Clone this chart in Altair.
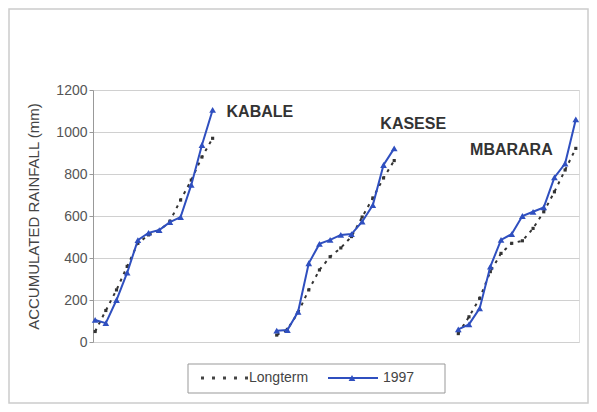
import altair as alt
import pandas as pd

# ---- data ----
stations = ["KABALE", "KASESE", "MBARARA"]
offsets = [0, 17, 34]
kabale_1997 = [105, 90, 200, 330, 485, 520, 533, 571, 595, 748, 938, 1105]
kabale_longterm = [50, 150, 248, 360, 470, 510, 530, 575, 676, 771, 881, 970]
kasese_1997 = [54, 57, 144, 375, 467, 486, 510, 514, 573, 652, 843, 922]
kasese_longterm = [33, 60, 140, 248, 343, 406, 448, 502, 595, 686, 781, 864]
mbarara_1997 = [60, 84, 160, 359, 486, 514, 600, 620, 641, 784, 850, 1060]
mbarara_longterm = [40, 120, 208, 335, 422, 470, 482, 541, 620, 715, 819, 922]
label_x = [12.3, 26.7, 35.1]
label_y = [1095, 1038, 914]
y_ticks = [0, 200, 400, 600, 800, 1000, 1200]

series_1997 = [kabale_1997, kasese_1997, mbarara_1997]
series_lt = [kabale_longterm, kasese_longterm, mbarara_longterm]

rows = []
for st, off, a, b in zip(stations, offsets, series_1997, series_lt):
    for i, v in enumerate(b):
        rows.append({"station": st, "series": "Longterm", "grp": st + "-LT", "idx": off + i, "value": v})
    for i, v in enumerate(a):
        rows.append({"station": st, "series": "1997", "grp": st + "-97", "idx": off + i, "value": v})
df = pd.DataFrame(rows)
labels = pd.DataFrame({"name": stations, "x": label_x, "y": label_y})

W, H = 486, 252
FONT = "Liberation Sans"
BLUE = "#2f4fbf"
DARK = "#333333"

xs = alt.Scale(domain=[-0.2, 45.3], nice=False, zero=False)
ys = alt.Scale(domain=[0, 1200], nice=False)

base = alt.Chart(df)
x_enc = alt.X("idx:Q", scale=xs, axis=None)
y_enc = alt.Y("value:Q", scale=ys,
              axis=alt.Axis(values=y_ticks, format="d", title="ACCUMULATED RAINFALL (mm)",
                            grid=True, gridColor="#d0d0d0", domainColor="#999999",
                            tickColor="#999999", tickSize=4, labelPadding=2,
                            labelFont=FONT, labelFontSize=14, labelColor="#555555",
                            titleFont=FONT, titleFontSize=15, titleFontWeight="normal",
                            titleColor="#444444", titlePadding=14))

lt = base.transform_filter(alt.datum.series == "Longterm")
n97 = base.transform_filter(alt.datum.series == "1997")

lt_line = lt.mark_line(color=DARK, strokeWidth=2, strokeDash=[3, 5]).encode(
    x=x_enc, y=y_enc, detail="grp:N")
lt_pts = lt.mark_point(shape="square", filled=True, color=DARK, size=10, opacity=1).encode(
    x=x_enc, y=y_enc)
b_line = n97.mark_line(color=BLUE, strokeWidth=2).encode(x=x_enc, y=y_enc, detail="grp:N")
b_pts = n97.mark_point(shape="triangle-up", filled=True, color=BLUE, size=45, opacity=1).encode(
    x=x_enc, y=y_enc)

txt = alt.Chart(labels).mark_text(align="left", baseline="middle", font=FONT,
                                  fontSize=16, fontWeight="bold", color="#333333").encode(
    x=alt.X("x:Q", scale=xs, axis=None), y=alt.Y("y:Q", scale=ys), text="name:N")

# ---- legend (decoration) ----
one = pd.DataFrame({"k": [0]})
leg_box = alt.Chart(one).mark_rect(fill="white", stroke="#999999", strokeWidth=1).encode(
    x=alt.value(95), x2=alt.value(352), y=alt.value(274), y2=alt.value(303))
leg_lt = alt.Chart(one).mark_rule(color="#444444", strokeWidth=3, strokeDash=[3, 8]).encode(
    x=alt.value(108), x2=alt.value(155), y=alt.value(288))
leg_lt_t = alt.Chart(one).mark_text(align="left", baseline="middle", font=FONT, fontSize=14,
                                    color="#444444", text="Longterm").encode(
    x=alt.value(156), y=alt.value(288))
leg_b = alt.Chart(one).mark_rule(color=BLUE, strokeWidth=2).encode(
    x=alt.value(235), x2=alt.value(285), y=alt.value(288))
leg_b_p = alt.Chart(one).mark_point(shape="triangle-up", filled=True, color=BLUE, size=45,
                                    opacity=1).encode(x=alt.value(259), y=alt.value(288))
leg_b_t = alt.Chart(one).mark_text(align="left", baseline="middle", font=FONT, fontSize=14,
                                   color="#444444", text="1997").encode(
    x=alt.value(290), y=alt.value(288))

frame = alt.Chart(one).mark_rect(fill=None, stroke="#cccccc", strokeWidth=1.5).encode(
    x=alt.value(-84), x2=alt.value(495), y=alt.value(-81), y2=alt.value(313))

chart = alt.layer(frame, lt_line, lt_pts, b_line, b_pts, txt,
                  leg_box, leg_lt, leg_lt_t, leg_b, leg_b_p, leg_b_t).properties(
    width=W, height=H,
    autosize=alt.AutoSizeParams(type="none"),
    padding={"left": 85, "top": 82, "right": 10, "bottom": 62},
).configure_view(stroke="#bbbbbc").configure(background="white")

chart.save("out.html", embed_options={"renderer": "svg", "actions": False})
